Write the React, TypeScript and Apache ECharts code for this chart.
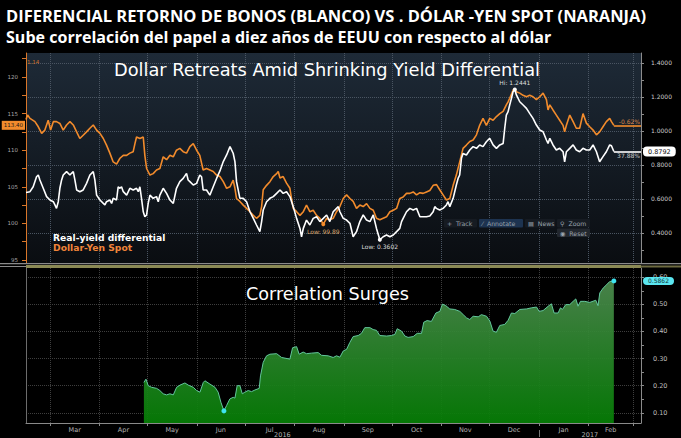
import { useEffect, useRef } from 'react';
import * as echarts from 'echarts';

const TITLE_1 = 'DIFERENCIAL RETORNO DE BONOS (BLANCO) VS . DÓLAR -YEN SPOT (NARANJA)';
const TITLE_2 = 'Sube correlación del papel a diez años de EEUU con respecto al dólar';
const UPPER_TITLE = 'Dollar Retreats Amid Shrinking Yield Differential';
const LOWER_TITLE = 'Correlation Surges';
const YIELD_NAME = 'Real-yield differential';
const YEN_NAME = 'Dollar-Yen Spot';
const YEN_CHANGE = '-0.62%';
const YIELD_CHANGE = '37.88%';

// x values are day numbers counted from 2016-01-01 (= day 0)
const monthStarts = [60, 91, 121, 152, 182, 213, 244, 274, 305, 335, 366, 397, 425];
const monthNames = ['Mar', 'Apr', 'May', 'Jun', 'Jul', 'Aug', 'Sep', 'Oct', 'Nov', 'Dec', 'Jan', 'Feb'];
const yearNames = ['2016', '2017'];
const yearLabelDays = [205.5, 398];
const yearBreakDays = [366];

const yenTicks = [95, 97.5, 100, 102.5, 105, 107.5, 110, 112.5, 115, 117.5, 120, 122.5];
const yenLabels = [95, 100, 105, 110, 115, 120];
const yieldTicks = [0.3, 0.4, 0.5, 0.6, 0.7, 0.8, 0.9, 1.0, 1.1, 1.2, 1.3, 1.4];
const yieldLabels = [0.4, 0.6, 0.8, 1.0, 1.2, 1.4];
const corrTicks = [0.1, 0.15, 0.2, 0.25, 0.3, 0.35, 0.4, 0.45, 0.5, 0.55, 0.6];
const corrLabels = [0.1, 0.2, 0.3, 0.4, 0.5, 0.6];

const yenSpot: [number, number][] = [
  [45, 114.2], [46, 114.8], [47.5, 114.35], [50.6, 113.9], [52.7, 113.2], [54.8, 112.3], [56.8, 112.75],
  [58.9, 114.1], [60.4, 112.75], [62.1, 113.9], [64.1, 113.9], [66.2, 113.65], [68.3, 112.75], [70.4, 113.45],
  [72.5, 113.9], [74.6, 113.45], [76.7, 112.5], [78.7, 111.6], [80.8, 112.05], [82.9, 112.5], [85.0, 113.0],
  [87.1, 113.45], [89.2, 112.75], [91.3, 112.3], [93.4, 111.6], [95.4, 110.7], [97.5, 109.6], [99.6, 108.4],
  [101.7, 108.1], [103.8, 108.9], [105.9, 109.3], [108.0, 109.3], [110.0, 109.6], [112.1, 109.8], [113.2, 110.9],
  [114.2, 111.8], [116.3, 111.6], [118.4, 111.8], [119.4, 109.3], [120.5, 107.5], [122.6, 106.6], [124.6, 106.8],
  [126.7, 107.3], [128.8, 107.5], [130.9, 109.1], [133.0, 108.7], [135.1, 109.3], [137.2, 109.1], [139.2, 110.0],
  [141.3, 110.25], [143.4, 109.8], [145.5, 109.6], [147.6, 110.5], [149.7, 110.9], [151.8, 110.0], [153.8, 109.3],
  [155.9, 107.3], [158.0, 107.5], [160.1, 107.3], [162.2, 107.1], [164.3, 106.6], [166.4, 106.4], [168.5, 105.7],
  [170.6, 104.8], [172.7, 105.0], [174.7, 105.9], [175.8, 104.8], [176.8, 103.4], [178.9, 103.0], [181.0, 102.5],
  [183.1, 102.05], [185.2, 101.6], [187.3, 101.1], [189.3, 100.7], [191.4, 101.1], [192.5, 102.3], [193.5, 104.6],
  [195.6, 105.2], [197.7, 105.7], [199.8, 106.4], [201.9, 106.8], [202.9, 107.1], [204.0, 106.2], [206.0, 106.4],
  [208.1, 105.5], [210.2, 104.8], [211.2, 103.4], [212.3, 102.05], [214.4, 101.6], [216.5, 101.1], [218.6, 101.6],
  [220.6, 102.5], [222.7, 101.6], [224.8, 101.8], [226.9, 101.1], [229.0, 100.7], [231.1, 99.89], [233.2, 100.7],
  [235.2, 100.5], [237.3, 100.7], [239.4, 101.6], [241.5, 102.3], [243.6, 103.4], [245.7, 103.9], [247.8, 103.4],
  [249.8, 103.0], [251.9, 102.05], [254.0, 102.5], [256.1, 102.3], [258.2, 102.7], [260.3, 102.05], [262.4, 101.8],
  [264.4, 100.7], [266.5, 100.5], [268.6, 100.7], [270.7, 100.9], [272.8, 101.6], [274.9, 101.8], [277.0, 102.05],
  [279.0, 103.4], [281.1, 103.6], [283.2, 104.1], [285.3, 104.1], [287.4, 104.3], [289.5, 103.9], [291.6, 104.2],
  [293.6, 104.1], [295.7, 104.3], [297.8, 104.5], [299.9, 105.2], [302.0, 105.3], [304.0, 104.6], [306.1, 103.9],
  [308.2, 103.2], [310.3, 103.4], [312.4, 105.2], [314.4, 106.6], [316.5, 108.4], [318.6, 110.25], [320.7, 110.7],
  [322.8, 111.2], [324.9, 111.4], [327.0, 112.1], [329.0, 113.4], [331.1, 114.35], [333.2, 113.4], [335.3, 114.35],
  [337.4, 114.1], [339.5, 114.6], [341.6, 115.0], [343.7, 115.3], [345.7, 116.2], [346.8, 116.6], [347.8, 117.1],
  [349.9, 118.2], [351.0, 118.4], [352.0, 118.0], [354.1, 117.8], [356.2, 117.5], [358.3, 117.3], [360.3, 117.5],
  [362.4, 117.3], [364.5, 116.9], [366.6, 117.3], [368.7, 117.8], [370.8, 116.9], [371.8, 115.5], [372.9, 116.2],
  [374.9, 115.5], [377.0, 114.8], [379.1, 114.1], [381.2, 113.4], [382.2, 112.5], [383.3, 113.4], [385.4, 114.8],
  [387.5, 113.9], [389.5, 113.0], [391.6, 113.0], [393.7, 115.0], [395.8, 113.7], [397.9, 113.2], [400.0, 112.75],
  [402.1, 112.1], [404.1, 112.5], [406.2, 113.2], [408.3, 113.9], [410.4, 114.35], [411.5, 113.9], [413, 113.4],
];

const realYield: [number, number][] = [
  [45, 0.638], [47.5, 0.643], [49.5, 0.672], [51.6, 0.731], [52.7, 0.741], [53.7, 0.712], [55.8, 0.663],
  [57.9, 0.614], [60.0, 0.594], [62.1, 0.584], [63.1, 0.565], [64.1, 0.545], [65.2, 0.584], [66.2, 0.663],
  [67.3, 0.712], [68.3, 0.741], [70.4, 0.761], [72.5, 0.741], [73.5, 0.751], [74.6, 0.761], [75.6, 0.712],
  [76.7, 0.653], [78.7, 0.643], [80.8, 0.653], [82.9, 0.692], [85.0, 0.741], [87.1, 0.761], [88.1, 0.712],
  [89.2, 0.623], [91.3, 0.594], [93.4, 0.574], [94.4, 0.565], [95.4, 0.584], [97.5, 0.594], [98.6, 0.574],
  [99.6, 0.604], [101.7, 0.594], [102.7, 0.672], [103.8, 0.663], [104.8, 0.672], [105.9, 0.643], [108.0, 0.623],
  [110.0, 0.663], [112.1, 0.653], [114.2, 0.663], [115.3, 0.643], [116.3, 0.672], [117.3, 0.604], [118.4, 0.525],
  [119.4, 0.496], [120.5, 0.506], [121.5, 0.574], [122.6, 0.623], [124.6, 0.604], [126.7, 0.614], [127.8, 0.584],
  [128.8, 0.623], [130.9, 0.663], [133.0, 0.633], [135.1, 0.594], [137.2, 0.574], [139.2, 0.663], [141.3, 0.702],
  [143.4, 0.721], [145.5, 0.751], [146.5, 0.712], [147.6, 0.702], [149.7, 0.682], [151.8, 0.692], [153.8, 0.741],
  [154.9, 0.731], [155.9, 0.653], [158.0, 0.653], [160.1, 0.623], [162.2, 0.672], [164.3, 0.721], [166.4, 0.765],
  [168.5, 0.82], [170.6, 0.859], [172.7, 0.908], [174.7, 0.869], [175.8, 0.82], [176.8, 0.702], [178.9, 0.604],
  [181.0, 0.604], [183.1, 0.584], [185.2, 0.525], [187.3, 0.486], [189.3, 0.447], [191.4, 0.408], [192.5, 0.467],
  [193.5, 0.535], [195.6, 0.584], [197.7, 0.604], [199.8, 0.614], [201.9, 0.633], [204.0, 0.653], [206.0, 0.633],
  [208.1, 0.643], [210.2, 0.614], [212.3, 0.555], [214.4, 0.486], [216.5, 0.427], [217.5, 0.378], [218.6, 0.427],
  [220.6, 0.476], [222.7, 0.447], [224.8, 0.486], [226.9, 0.496], [229.0, 0.467], [231.1, 0.486], [233.2, 0.506],
  [235.2, 0.467], [237.3, 0.525], [239.4, 0.545], [240.5, 0.555], [241.5, 0.525], [243.6, 0.486], [245.7, 0.476],
  [247.8, 0.457], [249.8, 0.378], [251.9, 0.408], [254.0, 0.467], [256.1, 0.506], [258.2, 0.476], [260.3, 0.467],
  [262.4, 0.506], [264.4, 0.427], [266.5, 0.3602], [268.6, 0.378], [270.7, 0.388], [272.8, 0.378], [274.9, 0.388],
  [277.0, 0.408], [279.0, 0.427], [280.1, 0.467], [281.1, 0.486], [283.2, 0.525], [285.3, 0.545], [287.4, 0.535],
  [289.5, 0.545], [291.6, 0.496], [293.6, 0.496], [295.7, 0.496], [297.8, 0.5], [299.9, 0.525], [300.9, 0.555],
  [301.9, 0.545], [304.0, 0.535], [306.1, 0.545], [308.2, 0.565], [309.2, 0.584], [310.3, 0.555], [312.4, 0.604],
  [314.4, 0.682], [315.5, 0.721], [316.5, 0.741], [317.6, 0.839], [318.6, 0.868], [320.7, 0.859], [322.8, 0.888],
  [324.9, 0.908], [327.0, 0.898], [329.0, 0.918], [331.1, 0.908], [333.2, 0.937], [335.3, 0.957], [337.4, 0.918],
  [339.5, 0.898], [341.6, 0.918], [343.7, 0.927], [344.7, 1.016], [345.7, 1.094], [346.8, 1.114], [347.8, 1.153],
  [348.9, 1.192], [349.9, 1.231], [351.0, 1.2441], [352.0, 1.212], [354.1, 1.172], [356.2, 1.153], [358.3, 1.133],
  [360.3, 1.104], [362.4, 1.074], [364.5, 1.035], [366.6, 1.006], [368.7, 0.996], [370.8, 0.947], [371.8, 0.927],
  [372.9, 0.957], [374.9, 0.918], [377.0, 0.888], [379.1, 0.898], [381.2, 0.878], [382.2, 0.819], [383.3, 0.878],
  [385.4, 0.898], [387.5, 0.918], [389.5, 0.888], [391.6, 0.878], [393.7, 0.898], [395.8, 0.888], [397.9, 0.888],
  [400.0, 0.918], [402.1, 0.878], [404.1, 0.819], [406.2, 0.849], [408.3, 0.878], [410.4, 0.918], [411.5, 0.913],
  [413, 0.8792],
];

const correlation: [number, number][] = [
  [118.8, 0.212], [120.1, 0.224], [121.5, 0.2], [123.6, 0.194], [126.8, 0.19], [128.8, 0.182], [130.9, 0.17],
  [133.0, 0.166], [135.1, 0.17], [137.2, 0.166], [139.3, 0.194], [141.4, 0.202], [144.5, 0.21], [146.6, 0.202],
  [149.7, 0.194], [151.8, 0.182], [153.9, 0.176], [156.0, 0.212], [157.0, 0.218], [160.1, 0.206], [163.3, 0.194],
  [165.3, 0.176], [167.0, 0.139], [168.9, 0.107], [170.6, 0.127], [172.6, 0.151], [174.7, 0.157], [175.8, 0.154],
  [177.2, 0.2], [178.9, 0.2], [180.4, 0.17], [182.0, 0.176], [184.1, 0.182], [186.2, 0.178], [188.3, 0.184],
  [191.0, 0.19], [191.8, 0.236], [193.5, 0.286], [195.6, 0.31], [197.7, 0.316], [201.9, 0.318], [205.0, 0.304],
  [210.2, 0.298], [211.9, 0.34], [214.4, 0.344], [216.0, 0.316], [218.5, 0.324], [220.6, 0.318], [223.7, 0.32],
  [227.9, 0.322], [230.0, 0.312], [234.2, 0.31], [237.3, 0.304], [239.4, 0.31], [241.5, 0.305], [243.6, 0.328],
  [245.7, 0.334], [247.7, 0.359], [249.8, 0.381], [253.0, 0.385], [255.0, 0.393], [257.1, 0.414], [260.3, 0.414],
  [262.3, 0.407], [264.4, 0.404], [266.5, 0.385], [270.7, 0.383], [273.8, 0.385], [275.9, 0.389], [277.4, 0.41],
  [280.1, 0.401], [282.2, 0.383], [284.2, 0.378], [287.4, 0.381], [289.9, 0.393], [292.6, 0.393], [294.0, 0.434],
  [296.1, 0.44], [298.8, 0.437], [301.6, 0.468], [304.1, 0.474], [305.7, 0.501], [307.8, 0.495], [310.3, 0.483],
  [313.4, 0.481], [316.6, 0.474], [318.7, 0.462], [320.8, 0.45], [322.8, 0.444], [324.9, 0.456], [328.1, 0.454],
  [330.1, 0.462], [333.3, 0.456], [335.4, 0.438], [337.4, 0.401], [339.5, 0.397], [341.6, 0.422], [344.7, 0.426],
  [346.8, 0.441], [348.9, 0.468], [351.0, 0.466], [354.1, 0.481], [358.3, 0.483], [361.4, 0.487], [364.6, 0.49],
  [366.2, 0.474], [368.7, 0.477], [371.9, 0.493], [373.9, 0.502], [375.6, 0.468], [378.1, 0.468], [379.6, 0.487],
  [380.8, 0.481], [382.9, 0.499], [385.4, 0.499], [387.5, 0.511], [389.2, 0.52], [390.6, 0.493], [392.1, 0.511],
  [394.8, 0.511], [397.9, 0.507], [401.7, 0.515], [403.1, 0.495], [404.2, 0.542], [406.3, 0.56], [408.4, 0.572],
  [410.4, 0.584], [413.0, 0.5862],
];

const X_MIN = 45;
const X_MAX = 430;
const YEN_MIN = 94.59;
const YEN_MAX = 123.28;
const YIELD_MIN = 0.2235;
const YIELD_MAX = 1.4588;
const CORR_MIN = 0.0623;
const CORR_MAX = 0.634;

const ORANGE = '#f28b2c';
const FONT = 'DejaVu Sans';
const HIDDEN_LINE = { width: 0, color: 'rgba(0,0,0,0)' };

function fitScale(text: string, font: string, target: number): number {
  try {
    const ctx = document.createElement('canvas').getContext('2d');
    if (!ctx) return 1;
    ctx.font = font;
    const w = ctx.measureText(text).width;
    return w > 0 ? target / w : 1;
  } catch (e) {
    return 1;
  }
}

export default function App() {
  const ref = useRef<HTMLDivElement>(null);

  useEffect(() => {
    document.body.style.margin = '0';
    document.body.style.background = '#000';
    if (!ref.current) return;
    const chart = echarts.init(ref.current, null, { renderer: 'svg' });

    const monthMids = monthNames.map((_, i) => (monthStarts[i] + monthStarts[i + 1]) / 2);
    const monthFormatter = (v: number) => {
      const i = monthMids.findIndex((m) => Math.abs(m - v) < 0.01);
      return i >= 0 ? monthNames[i] : '';
    };
    const yearFormatter = (v: number) => (v < yearBreakDays[0] ? yearNames[0] : yearNames[1]);

    const yenLast = yenSpot[yenSpot.length - 1];
    const yieldLast = realYield[realYield.length - 1];
    const corrLast = correlation[correlation.length - 1];

    const titleFont = 'bold 16px "Open Sans"';
    const s1 = fitScale(TITLE_1, titleFont, 640);
    const s2 = fitScale(TITLE_2, titleFont, 546);

    const upperBg = new echarts.graphic.LinearGradient(0, 0, 0, 1, [
      { offset: 0, color: '#1e2a37' },
      { offset: 1, color: '#0a0d11' },
    ]);
    const areaFill = new echarts.graphic.LinearGradient(0, 0, 0, 1, [
      { offset: 0, color: '#4d8a4f' },
      { offset: 1, color: '#067f06' },
    ]);

    const upperGrid = '#4a5562';
    const lowerGrid = '#3e3e3e';

    const toolbarButtons = [
      { label: '+  Track', x: 444, y: 219, w: 33, bg: '#161b22' },
      { label: '⁄  Annotate', x: 479, y: 219, w: 44, bg: '#1d3350' },
      { label: '▤  News', x: 525, y: 219, w: 30, bg: '#161b22' },
      { label: '⚲  Zoom', x: 557, y: 219, w: 33, bg: '#161b22' },
      { label: '◉  Reset', x: 557, y: 228.5, w: 33, bg: '#22272e' },
    ];
    const toolbar: any[] = [];
    toolbarButtons.forEach((b) => {
      toolbar.push({
        type: 'rect',
        z: 40,
        shape: { x: b.x, y: b.y, width: b.w, height: 8.5, r: 1 },
        style: { fill: b.bg },
      });
      toolbar.push({
        type: 'text',
        z: 41,
        x: b.x + 3,
        y: b.y + 4.5,
        style: { text: b.label, fill: '#9aa2ac', fontSize: 6.2, fontFamily: FONT, verticalAlign: 'middle' },
      });
    });

    const option: any = {
      animation: false,
      backgroundColor: '#000',
      textStyle: { fontFamily: FONT },
      grid: [
        { left: 26, right: 40, top: 53, height: 210, show: true, borderWidth: 0, backgroundColor: upperBg },
        { left: 26, right: 40, top: 268, height: 156.3, show: false },
      ],
      xAxis: [
        {
          gridIndex: 0, type: 'value', min: X_MIN, max: X_MAX,
          axisLine: { show: false },
          axisTick: { show: false, customValues: monthStarts },
          axisLabel: { show: false },
          splitLine: { show: true, lineStyle: { type: 'dotted', color: upperGrid, width: 1 } },
        },
        {
          gridIndex: 1, type: 'value', min: X_MIN, max: X_MAX, position: 'bottom',
          axisLine: { show: true, onZero: false, lineStyle: { color: '#8a8a8a', width: 1 } },
          axisTick: { show: true, customValues: monthStarts, length: 3, lineStyle: { color: '#8a8a8a' } },
          axisLabel: { customValues: monthMids, formatter: monthFormatter, fontSize: 6.5, color: '#b4b4b4', margin: 3 },
          splitLine: { show: true, lineStyle: { type: 'dotted', color: lowerGrid, width: 1 } },
        },
        {
          gridIndex: 1, type: 'value', min: X_MIN, max: X_MAX, position: 'bottom', offset: 7,
          axisLine: { show: false },
          axisTick: { show: true, customValues: yearBreakDays, length: 7, lineStyle: { color: '#777' } },
          axisLabel: { customValues: yearLabelDays, formatter: yearFormatter, fontSize: 6.5, color: '#b4b4b4', margin: 1 },
          splitLine: { show: false },
        },
      ],
      yAxis: [
        {
          gridIndex: 0, type: 'value', position: 'left', min: YEN_MIN, max: YEN_MAX,
          axisLine: { show: true, onZero: false, lineStyle: { color: '#d9772a', width: 1 } },
          axisTick: { show: true, customValues: yenTicks, length: 4, lineStyle: { color: '#d9772a' } },
          axisLabel: { customValues: yenLabels, fontSize: 5.5, color: '#a8a8a8', margin: 8 },
          splitLine: { show: false },
        },
        {
          gridIndex: 0, type: 'value', position: 'right', min: YIELD_MIN, max: YIELD_MAX,
          axisLine: { show: true, onZero: false, lineStyle: { color: '#8c8c8c', width: 1 } },
          axisTick: { show: true, customValues: yieldTicks, length: 3, lineStyle: { color: '#8c8c8c' } },
          axisLabel: { customValues: yieldLabels, formatter: (v: number) => v.toFixed(4), fontSize: 6, color: '#cccccc', margin: 10 },
          splitLine: { show: false },
        },
        {
          gridIndex: 0, type: 'value', position: 'right', min: YIELD_MIN, max: YIELD_MAX,
          axisLine: { show: false },
          axisTick: { show: false, customValues: yieldLabels },
          axisLabel: { show: false },
          splitLine: { show: true, lineStyle: { type: 'dotted', color: upperGrid, width: 1 } },
        },
        {
          gridIndex: 1, type: 'value', position: 'right', min: CORR_MIN, max: CORR_MAX,
          axisLine: { show: true, onZero: false, lineStyle: { color: '#8a8a8a', width: 1 } },
          axisTick: { show: true, customValues: corrTicks, length: 3, lineStyle: { color: '#8a8a8a' } },
          axisLabel: { customValues: corrLabels, formatter: (v: number) => v.toFixed(2), fontSize: 6.5, color: '#bdbdbd', margin: 12 },
          splitLine: { show: false },
        },
        {
          gridIndex: 1, type: 'value', position: 'right', min: CORR_MIN, max: CORR_MAX,
          axisLine: { show: false },
          axisTick: { show: false, customValues: corrLabels },
          axisLabel: { show: false },
          splitLine: { show: true, lineStyle: { type: 'dotted', color: lowerGrid, width: 1 } },
        },
        {
          gridIndex: 1, type: 'value', position: 'left', min: CORR_MIN, max: CORR_MAX,
          axisLine: { show: true, onZero: false, lineStyle: { color: '#6c6c6c', width: 1 } },
          axisTick: { show: false },
          axisLabel: { show: false },
          splitLine: { show: false },
        },
      ],
      series: [
        {
          name: YEN_NAME, type: 'line', xAxisIndex: 0, yAxisIndex: 0, data: yenSpot,
          showSymbol: false, symbol: 'none', z: 3,
          lineStyle: { color: ORANGE, width: 1.6 }, itemStyle: { color: ORANGE },
          markPoint: {
            silent: true, symbol: 'circle', symbolSize: 4, itemStyle: { color: ORANGE },
            label: { show: true, position: 'bottom', distance: 2, fontSize: 6, color: '#d9a66c', formatter: (p: any) => 'Low: ' + p.value },
            data: [{ type: 'min', valueDim: 'y' }],
          },
          markLine: {
            silent: true, symbol: ['none', 'none'],
            data: [
              [
                { coord: [yenLast[0], yenLast[1]], lineStyle: { color: ORANGE, width: 1.6, type: 'solid' },
                  label: { show: true, position: 'insideEndTop', formatter: YEN_CHANGE, fontSize: 6, color: '#d98a4a', distance: 1 } },
                { coord: [X_MAX, yenLast[1]] },
              ],
              [
                { coord: [X_MIN, yenLast[1]], lineStyle: HIDDEN_LINE,
                  label: { show: true, position: 'start', formatter: yenLast[1].toFixed(2), fontSize: 5.5, color: '#1a1a1a',
                    backgroundColor: ORANGE, padding: [1.5, 2], distance: 1 } },
                { coord: [X_MIN + 1, yenLast[1]] },
              ],
            ],
          },
        },
        {
          name: YIELD_NAME, type: 'line', xAxisIndex: 0, yAxisIndex: 1, data: realYield,
          showSymbol: false, symbol: 'none', z: 4,
          lineStyle: { color: '#ffffff', width: 1.6 }, itemStyle: { color: '#ffffff' },
          markPoint: {
            silent: true, symbol: 'circle', symbolSize: 4, itemStyle: { color: '#ffffff' },
            label: { show: true, fontSize: 6, color: '#dddddd', distance: 2 },
            data: [
              { type: 'min', valueDim: 'y', label: { position: 'bottom', formatter: (p: any) => 'Low: ' + p.value } },
              { type: 'max', valueDim: 'y', label: { position: 'top', formatter: (p: any) => 'Hi: ' + p.value } },
            ],
          },
          markLine: {
            silent: true, symbol: ['none', 'none'],
            data: [
              [
                { coord: [yieldLast[0], yieldLast[1]], lineStyle: { color: '#ffffff', width: 1.6, type: 'solid' },
                  label: { show: true, position: 'insideEndBottom', formatter: YIELD_CHANGE, fontSize: 6, color: '#c8c8c8', distance: 1 } },
                { coord: [X_MAX, yieldLast[1]] },
              ],
              [
                { coord: [yieldLast[0], yieldLast[1]], lineStyle: HIDDEN_LINE,
                  label: { show: true, position: 'end', formatter: yieldLast[1].toFixed(4), fontSize: 6.5, color: '#111',
                    backgroundColor: '#ffffff', padding: [1.5, 5], borderRadius: 4, distance: 2 } },
                { coord: [X_MAX, yieldLast[1]] },
              ],
            ],
          },
        },
        {
          name: 'Correlation', type: 'line', xAxisIndex: 1, yAxisIndex: 3, data: correlation,
          showSymbol: false, symbol: 'none', z: 3,
          lineStyle: { color: '#63c79c', width: 1 }, itemStyle: { color: '#63c79c' },
          areaStyle: { origin: 'start', color: areaFill, opacity: 0.93 },
          markPoint: {
            silent: true, symbol: 'circle', symbolSize: 5, itemStyle: { color: '#3fe3f0' },
            label: { show: false },
            data: [{ type: 'min', valueDim: 'y' }, { type: 'max', valueDim: 'y' }],
          },
          markLine: {
            silent: true, symbol: ['none', 'none'],
            data: [
              [
                { coord: [corrLast[0], corrLast[1]], lineStyle: HIDDEN_LINE,
                  label: { show: true, position: 'end', formatter: corrLast[1].toFixed(4), fontSize: 6, color: '#12353a',
                    backgroundColor: '#5be6f0', padding: [1, 5], borderRadius: 4, distance: 2 } },
                { coord: [X_MAX, corrLast[1]] },
              ],
            ],
          },
        },
      ],
      graphic: [
        { type: 'text', z: 50, x: 6, y: 16, scaleX: s1,
          style: { text: TITLE_1, fill: '#ffffff', fontSize: 16, fontWeight: 'bold', fontFamily: 'Open Sans', verticalAlign: 'middle' } },
        { type: 'text', z: 50, x: 6, y: 37, scaleX: s2,
          style: { text: TITLE_2, fill: '#ffffff', fontSize: 16, fontWeight: 'bold', fontFamily: 'Open Sans', verticalAlign: 'middle' } },
        { type: 'text', z: 50, x: 327, y: 69,
          style: { text: UPPER_TITLE, fill: '#ffffff', fontSize: 17.8, fontFamily: FONT, align: 'center', verticalAlign: 'middle' } },
        { type: 'text', z: 50, x: 327.5, y: 294,
          style: { text: LOWER_TITLE, fill: '#ffffff', fontSize: 17.6, fontFamily: FONT, align: 'center', verticalAlign: 'middle' } },
        { type: 'text', z: 50, x: 53, y: 237,
          style: { text: YIELD_NAME, fill: '#ffffff', fontSize: 9.2, fontWeight: 'bold', fontFamily: FONT, verticalAlign: 'middle' } },
        { type: 'text', z: 50, x: 53, y: 247,
          style: { text: YEN_NAME, fill: '#f0843a', fontSize: 9.2, fontWeight: 'bold', fontFamily: FONT, verticalAlign: 'middle' } },
        { type: 'text', z: 50, x: 27, y: 62,
          style: { text: '1.14', fill: '#c8702a', fontSize: 5.5, fontFamily: FONT, verticalAlign: 'middle' } },
        { type: 'rect', z: 45, shape: { x: 0, y: 263, width: 681, height: 1.2 }, style: { fill: '#8a8a8a' } },
        { type: 'rect', z: 45, shape: { x: 0, y: 266, width: 26, height: 1 }, style: { fill: '#8a8a8a' } },
        { type: 'rect', z: 45, shape: { x: 26, y: 265, width: 615, height: 3 }, style: { fill: '#8b8a55' } },
        { type: 'rect', z: 45, shape: { x: 641, y: 265.5, width: 40, height: 2 }, style: { fill: '#6d6a40' } },
        ...toolbar,
      ],
    };

    chart.setOption(option);
    return () => chart.dispose();
  }, []);

  return (
    <div
      ref={ref}
      style={{ position: 'fixed', left: 0, top: 0, width: 681, height: 438, background: '#000' }}
    />
  );
}
